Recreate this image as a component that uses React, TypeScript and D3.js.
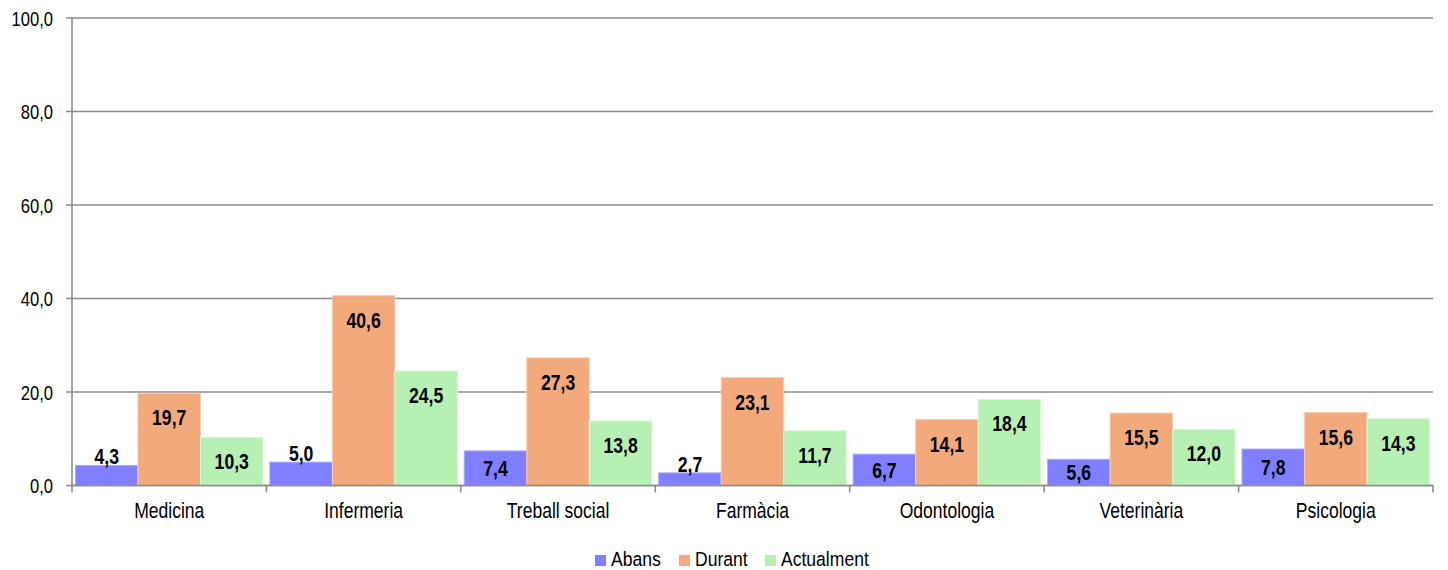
import React from "react";
import * as d3 from "d3";

const categories = ["Medicina", "Infermeria", "Treball social", "Farmàcia", "Odontologia", "Veterinària", "Psicologia"];
const seriesNames = ["Abans", "Durant", "Actualment"];
const abans = [4.3, 5.0, 7.4, 2.7, 6.7, 5.6, 7.8];
const durant = [19.7, 40.6, 27.3, 23.1, 14.1, 15.5, 15.6];
const actualment = [10.3, 24.5, 13.8, 11.7, 18.4, 12.0, 14.3];
const yTicks = [0, 20, 40, 60, 80, 100];
const colors = ["#7f7fff", "#f2a97b", "#b7f0b3"];
const strokes = ["#a9a9ff", "#f8cdb0", "#d8f8d5"];

const W = 1448, H = 570;
const left = 72, right = 1433, top = 18, bottom = 485.5;
const FONT = "'Liberation Sans', Arial, sans-serif";
const fmt = (v: number) => v.toFixed(1).replace(".", ",");

function T(props: { x: number; y: number; s: number; size: number; anchor?: string; bold?: boolean; children: React.ReactNode }) {
  return (
    <text
      transform={`translate(${props.x},${props.y}) scale(${props.s},1)`}
      textAnchor={props.anchor || "start"}
      fontSize={props.size}
      fontWeight={props.bold ? "bold" : "normal"}
      fill="#000"
    >
      {props.children}
    </text>
  );
}

export default function App() {
  const values = [abans, durant, actualment];
  const x0 = d3.scaleBand<string>().domain(categories).range([left, right]).padding(0);
  const x1 = d3.scaleBand<string>().domain(seriesNames).range([0, x0.bandwidth()]).paddingInner(0).paddingOuter(0.055);
  const y = d3.scaleLinear().domain([0, 100]).range([bottom, top]);
  const grid = "#8c8c8c";

  const legendItems = [
    { name: seriesNames[0], x: 595 },
    { name: seriesNames[1], x: 679 },
    { name: seriesNames[2], x: 765 },
  ];

  return (
    <svg width={W} height={H} style={{ position: "absolute", left: 0, top: 0, background: "#fff" }} fontFamily={FONT}>
      {yTicks.map((t) => (
        <g key={t}>
          <line x1={left - 6} x2={right} y1={y(t)} y2={y(t)} stroke={grid} strokeWidth={1.6} />
          <T x={53} y={y(t) + 7.5} s={0.85} size={19.5} anchor="end">{fmt(t)}</T>
        </g>
      ))}
      {categories.map((c, ci) => (
        <g key={c}>
          {seriesNames.map((s, si) => {
            const v = values[si][ci];
            const bx = (x0(c) as number) + (x1(s) as number);
            const bw = x1.bandwidth();
            const by = y(v);
            const bh = bottom - by;
            let ly: number;
            if (bh < 25) ly = by - 1;
            else ly = Math.min(by + 24, by + bh / 2) + 8;
            return (
              <g key={s}>
                <rect x={bx} y={by} width={bw} height={bh} fill={colors[si]} stroke={strokes[si]} strokeWidth={1} />
                <T x={bx + bw / 2} y={ly} s={0.82} size={21.5} anchor="middle" bold>{fmt(v)}</T>
              </g>
            );
          })}
        </g>
      ))}
      <line x1={left} x2={left} y1={top} y2={bottom} stroke={grid} strokeWidth={1.6} />
      <line x1={left} x2={right} y1={bottom} y2={bottom} stroke={grid} strokeWidth={1.6} />
      {[...categories.map((c) => x0(c) as number), right].map((xx, i) => (
        <line key={i} x1={xx} x2={xx} y1={bottom} y2={bottom + 7} stroke={grid} strokeWidth={1.6} />
      ))}
      {categories.map((c) => (
        <T key={c} x={(x0(c) as number) + x0.bandwidth() / 2} y={517.5} s={0.82} size={21.4} anchor="middle">{c}</T>
      ))}
      {legendItems.map((l, i) => (
        <g key={l.name}>
          <rect x={l.x} y={555} width={11} height={11} fill={colors[i]} />
          <T x={l.x + 16} y={566} s={0.9} size={19.5}>{l.name}</T>
        </g>
      ))}
    </svg>
  );
}
